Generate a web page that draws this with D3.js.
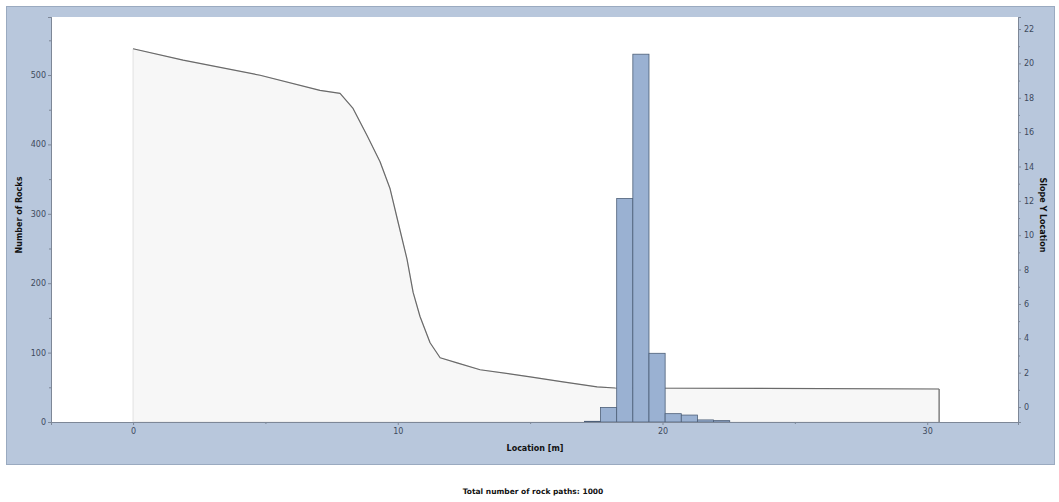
<!DOCTYPE html>
<html><head><meta charset="utf-8">
<script src="https://cdn.jsdelivr.net/npm/d3@7"></script>
<style>body{margin:0;background:#fff}svg{display:block}text{font-family:"DejaVu Sans",sans-serif}</style>
</head><body>
<svg id="c" width="1059" height="502"></svg>
<script>
// Histogram of rock stop locations
const binEdges = [17.05, 17.66, 18.27, 18.88, 19.49, 20.10, 20.71, 21.32, 21.93, 22.54];
const rockCounts = [1, 21, 322, 530, 99, 12, 10, 3, 2];
// Slope profile (location [m], slope Y [m])
const profileX = [0, 1.89, 4.80, 7.06, 7.82, 8.31, 8.84, 9.33, 9.71, 10.01, 10.35, 10.58, 10.84, 11.22, 11.60, 12.24, 13.11, 15.00, 16.24, 17.53, 18.21, 30.45];
const profileY = [20.85, 20.19, 19.31, 18.43, 18.26, 17.38, 15.80, 14.28, 12.70, 10.77, 8.60, 6.67, 5.27, 3.74, 2.87, 2.57, 2.17, 1.76, 1.46, 1.17, 1.11, 1.05];
const xTicks = [0, 10, 20, 30];
const xMinor = [5, 15, 25];
const leftTicks = [0, 100, 200, 300, 400, 500];
const leftMinor = [50, 150, 250, 350, 450, 550];
const rightTicks = [0, 2, 4, 6, 8, 10, 12, 14, 16, 18, 20, 22];
const rightMinor = [1, 3, 5, 7, 9, 11, 13, 15, 17, 19, 21];
const caption = "Total number of rock paths:  1000";

const svg = d3.select("#c");
const P = {l: 51, r: 1018, t: 17, b: 422};
const x = d3.scaleLinear().domain([-3.10, 33.43]).range([P.l, P.r]);
const yL = d3.scaleLinear().domain([0, 583.6]).range([P.b, P.t]);
const yR = d3.scaleLinear().domain([-0.87, 22.7]).range([P.b, P.t]);

// outer panel
svg.append("rect").attr("x", 6.5).attr("y", 6.5).attr("width", 1048).attr("height", 458)
  .attr("fill", "#b8c7dc").attr("stroke", "#9aaac0");
// plot area
svg.append("rect").attr("x", P.l).attr("y", P.t).attr("width", P.r - P.l).attr("height", P.b - P.t).attr("fill", "#fff");

// profile area + line
const prof = profileX.map((d, i) => [d, profileY[i]]);
const area = d3.area().x(d => x(d[0])).y0(P.b).y1(d => yR(d[1]));
svg.append("path").datum(prof).attr("d", area).attr("fill", "#f7f7f7")
  .attr("stroke", "#e2e2e2").attr("stroke-width", 1);
svg.append("path").datum(prof).attr("d", d3.line().x(d => x(d[0])).y(d => yR(d[1])))
  .attr("fill", "none").attr("stroke", "#6a6a6a").attr("stroke-width", 1.2).attr("stroke-linejoin", "round");
// right end vertical edge
const last = prof[prof.length - 1];
svg.append("line").attr("x1", x(last[0])).attr("x2", x(last[0])).attr("y1", yR(last[1])).attr("y2", P.b)
  .attr("stroke", "#6a6a6a").attr("stroke-width", 1.2);

// histogram bars
svg.append("g").selectAll("rect").data(rockCounts).join("rect")
  .attr("x", (d, i) => x(binEdges[i]))
  .attr("width", (d, i) => x(binEdges[i + 1]) - x(binEdges[i]))
  .attr("y", d => yL(d))
  .attr("height", d => yL(0) - yL(d))
  .attr("fill", "#9ab1d2").attr("stroke", "#4d5f78").attr("stroke-width", 0.8);

// axes
const tickCol = "#3e4a5c";
svg.append("g").attr("transform", `translate(0,${P.b})`)
  .call(d3.axisBottom(x).tickValues(xTicks).tickSize(3).tickPadding(3));
svg.append("g").attr("transform", `translate(0,${P.b})`)
  .call(d3.axisBottom(x).tickValues(xMinor).tickSize(2).tickFormat(""));
svg.append("g").attr("transform", `translate(${P.l},0)`)
  .call(d3.axisLeft(yL).tickValues(leftTicks).tickSize(3).tickPadding(2));
svg.append("g").attr("transform", `translate(${P.l},0)`)
  .call(d3.axisLeft(yL).tickValues(leftMinor).tickSize(2).tickFormat(""));
svg.append("g").attr("transform", `translate(${P.r},0)`)
  .call(d3.axisRight(yR).tickValues(rightTicks).tickSize(3).tickPadding(3));
svg.append("g").attr("transform", `translate(${P.r},0)`)
  .call(d3.axisRight(yR).tickValues(rightMinor).tickSize(2).tickFormat(""));
svg.selectAll(".domain").attr("stroke", "#7d8797");
svg.selectAll(".tick line").attr("stroke", "#7d8797");
svg.selectAll(".tick text").attr("font-size", 8).attr("fill", tickCol).attr("font-family", "DejaVu Sans");

// axis titles
svg.append("text").attr("transform", "translate(22,215) rotate(-90)").attr("text-anchor", "middle")
  .attr("font-size", 8).attr("font-weight", "bold").attr("fill", "#111").text("Number of Rocks");
svg.append("text").attr("transform", "translate(1040,215) rotate(90)").attr("text-anchor", "middle")
  .attr("font-size", 8).attr("font-weight", "bold").attr("fill", "#111").text("Slope Y Location");
svg.append("text").attr("x", 535).attr("y", 451).attr("text-anchor", "middle")
  .attr("font-size", 8).attr("font-weight", "bold").attr("fill", "#111").text("Location [m]");
svg.append("text").attr("x", 533).attr("y", 494).attr("text-anchor", "middle")
  .attr("font-size", 7.5).attr("font-weight", "bold").attr("fill", "#111").text(caption);
</script>
</body></html>
